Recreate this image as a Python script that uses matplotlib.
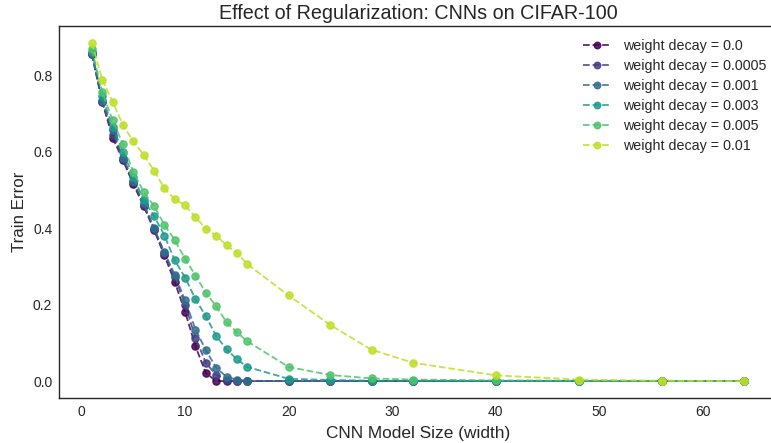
import matplotlib
matplotlib.use("Agg")
import matplotlib.pyplot as plt
import numpy as np

widths = [1, 2, 3, 4, 5, 6, 7, 8, 9, 10, 11, 12, 13, 14, 15, 16, 20, 24, 28, 32, 40, 48, 56, 64]
labels = ["weight decay = 0.0", "weight decay = 0.0005", "weight decay = 0.001",
          "weight decay = 0.003", "weight decay = 0.005", "weight decay = 0.01"]

err_wd_0 = [0.855, 0.730, 0.637, 0.578, 0.515, 0.458, 0.395, 0.329, 0.259, 0.181, 0.091, 0.021,
            0.000, 0.000, 0.000, 0.000, 0.000, 0.000, 0.000, 0.000, 0.000, 0.000, 0.000, 0.000]
err_wd_00005 = [0.857, 0.732, 0.645, 0.582, 0.520, 0.462, 0.398, 0.335, 0.272, 0.200, 0.113, 0.048,
                0.016, 0.004, 0.001, 0.000, 0.000, 0.000, 0.000, 0.000, 0.000, 0.000, 0.000, 0.000]
err_wd_0001 = [0.858, 0.733, 0.656, 0.585, 0.524, 0.465, 0.400, 0.337, 0.278, 0.211, 0.135, 0.081,
               0.035, 0.011, 0.004, 0.001, 0.000, 0.000, 0.000, 0.000, 0.000, 0.000, 0.000, 0.000]
err_wd_0003 = [0.862, 0.745, 0.665, 0.600, 0.535, 0.474, 0.432, 0.381, 0.316, 0.271, 0.214, 0.170,
               0.118, 0.083, 0.057, 0.037, 0.006, 0.003, 0.001, 0.001, 0.000, 0.000, 0.000, 0.000]
err_wd_0005 = [0.868, 0.756, 0.682, 0.620, 0.547, 0.495, 0.458, 0.409, 0.369, 0.320, 0.276, 0.231,
               0.196, 0.154, 0.128, 0.104, 0.037, 0.016, 0.007, 0.004, 0.002, 0.001, 0.000, 0.000]
err_wd_001 = [0.885, 0.789, 0.731, 0.670, 0.627, 0.592, 0.551, 0.504, 0.476, 0.460, 0.429, 0.399,
              0.381, 0.355, 0.336, 0.306, 0.224, 0.147, 0.082, 0.048, 0.015, 0.004, 0.001, 0.000]

series = [err_wd_0, err_wd_00005, err_wd_0001, err_wd_0003, err_wd_0005, err_wd_001]

plt.rcParams['font.family'] = ['Liberation Sans', 'DejaVu Sans']
fig = plt.figure(figsize=(7.71, 4.43), dpi=100)
ax = fig.add_axes([59.3 / 771, 45 / 443, (777 - 59.3) / 771, (398 - 26) / 443])

colors = plt.cm.viridis(np.linspace(0, 0.9, 6))
for ys, lab, c in zip(series, labels, colors):
    ax.plot(widths, ys, linestyle='--', marker='o', markersize=5.2, linewidth=1.3,
            color=c, alpha=0.85, label=lab)

ax.set_title("Effect of Regularization: CNNs on CIFAR-100", fontsize=14.2, color='#262626', pad=5)
ax.set_xlabel("CNN Model Size (width)", fontsize=12.4, color='#262626', labelpad=5)
ax.set_ylabel("Train Error", fontsize=12.2, color='#262626', labelpad=4)
ax.tick_params(axis='both', labelsize=10, colors='#262626', length=0, pad=5)
for s in ax.spines.values():
    s.set_color('#262626')
    s.set_linewidth(1.0)
ax.spines['right'].set_visible(False)
ax.set_xticks([0, 10, 20, 30, 40, 50, 60])
ax.set_yticks([0.0, 0.2, 0.4, 0.6, 0.8])
leg = ax.legend(loc='upper right', fontsize=10.3, frameon=False, bbox_to_anchor=(1.003, 1.0),
                labelspacing=0.42, markerscale=0.9)
for t in leg.get_texts():
    t.set_color('#262626')

fig.savefig("out.png", dpi=100)
